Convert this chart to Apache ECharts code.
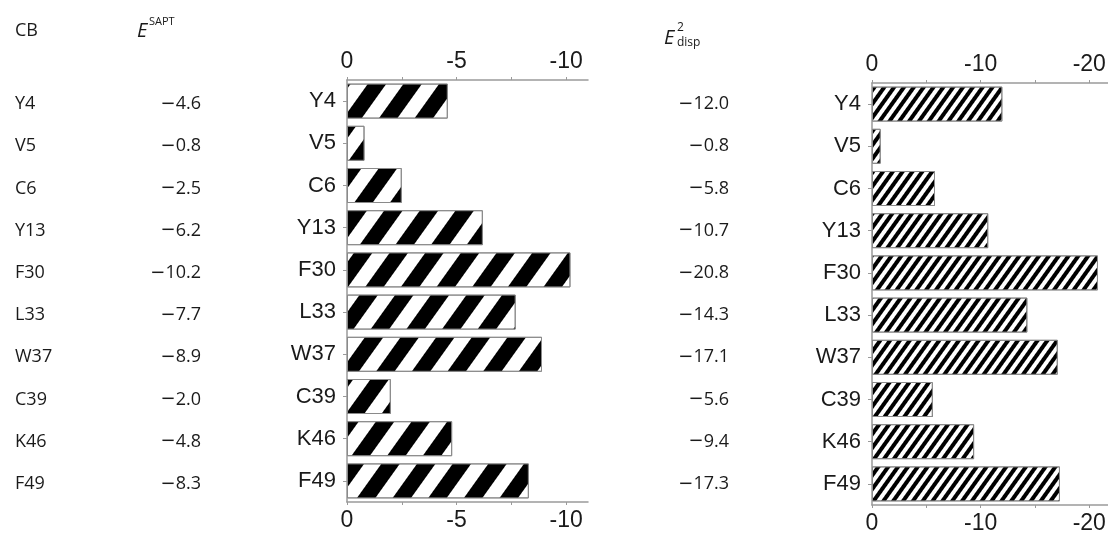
<!DOCTYPE html>
<html>
<head>
<meta charset="utf-8">
<script src="https://cdn.jsdelivr.net/npm/echarts@6/dist/echarts.min.js"></script>
<style>html,body{margin:0;padding:0;background:#fff;}#c{width:1108px;height:535px;}</style>
</head>
<body>
<div id="c"></div>
<script>
const categories = ['Y4','V5','C6','Y13','F30','L33','W37','C39','K46','F49'];
const saptValues = [-4.6,-0.8,-2.5,-6.2,-10.2,-7.7,-8.9,-2.0,-4.8,-8.3];
const dispValues = [-12.0,-0.8,-5.8,-10.7,-20.8,-14.3,-17.1,-5.6,-9.4,-17.3];
const saptLabelTicks = [0,-5,-10];
const saptTicks = [0,-2.5,-5,-7.5,-10];
const dispLabelTicks = [0,-10,-20];
const dispTicks = [0,-5,-10,-15,-20];

const fmtTable = v => '{m|\u2212}' + Math.abs(v).toFixed(1);
const fmtAxis = v => (v === 0 ? '0' : '-' + Math.abs(v));

const axisColor = '#9a9a9a';
const txtColor = '#1a1a1a';
const tableFont = '"Open Sans", "Noto Sans", sans-serif';
const axisFont = '"Liberation Sans", Arial, sans-serif';

function xAx(grid, pos, min, labels, ticks) {
  return {
    type: 'value', gridIndex: grid, position: pos, inverse: true,
    min: min, max: 0,
    axisLine: {show: true, onZero: false, lineStyle: {color: axisColor, width: 1.5}},
    axisTick: {show: true, length: 3, inside: false, customValues: ticks, lineStyle: {color: axisColor}},
    axisLabel: {show: true, customValues: labels, formatter: fmtAxis, margin: 7,
      fontFamily: axisFont, fontSize: 23, color: txtColor},
    splitLine: {show: false}
  };
}
function catAx(grid) {
  return {
    type: 'category', gridIndex: grid, data: categories, inverse: true, position: 'left',
    axisLine: {show: true, lineStyle: {color: axisColor, width: 1.5}},
    axisTick: {show: true, alignWithLabel: true, length: 4, lineStyle: {color: axisColor}},
    axisLabel: {margin: 11, fontFamily: axisFont, fontSize: 22, color: txtColor}
  };
}
function tableAx(grid, offset, align, fmt) {
  return {
    type: 'category', gridIndex: grid, data: categories, inverse: true, position: 'left', offset: offset,
    axisLine: {show: false}, axisTick: {show: false},
    axisLabel: {margin: 0, align: align, formatter: fmt,
      fontFamily: tableFont, fontSize: 18, color: txtColor,
      rich: {m: {fontFamily: '"DejaVu Sans", sans-serif', fontSize: 18, color: txtColor}}}
  };
}

const chart = echarts.init(document.getElementById('c'), null, {renderer: 'canvas'});
chart.setOption({
  backgroundColor: '#fff',
  animation: false,
  grid: [
    {left: 347, top: 80, width: 241, height: 422, containLabel: false, outerBoundsMode: 'none'},
    {left: 872, top: 83, width: 239, height: 422, containLabel: false, outerBoundsMode: 'none'}
  ],
  xAxis: [
    xAx(0, 'top', -11, saptLabelTicks, saptTicks),
    xAx(0, 'bottom', -11, saptLabelTicks, saptTicks),
    xAx(1, 'top', -22, dispLabelTicks, dispTicks),
    xAx(1, 'bottom', -22, dispLabelTicks, dispTicks)
  ],
  yAxis: [
    catAx(0),
    tableAx(1, 857, 'left', (v) => v),
    tableAx(1, 671, 'right', (v, i) => fmtTable(saptValues[i])),
    catAx(1),
    tableAx(1, 143, 'right', (v, i) => fmtTable(dispValues[i]))
  ],
  series: [
    {
      type: 'bar', xAxisIndex: 0, yAxisIndex: 0, data: saptValues, barWidth: 35,
      itemStyle: {
        color: '#ffffff', borderColor: '#8a8a8a', borderWidth: 1,
        decal: {symbol: 'rect', symbolSize: 1, color: '#000', dashArrayX: [1, 0], dashArrayY: [15, 14], rotation: -0.95}
      }
    },
    {
      type: 'bar', xAxisIndex: 2, yAxisIndex: 3, data: dispValues, barWidth: 35,
      itemStyle: {
        color: '#ffffff', borderColor: '#8a8a8a', borderWidth: 1,
        decal: {symbol: 'rect', symbolSize: 1, color: '#000', dashArrayX: [1, 0], dashArrayY: [4, 4], rotation: -0.95}
      }
    }
  ],
  graphic: [
    {type: 'text', x: 15, y: 31, style: {text: 'CB', font: '18px ' + tableFont, fill: txtColor, verticalAlign: 'middle'}},
    {type: 'text', x: 137, y: 31, style: {text: 'E', font: 'italic 20px ' + tableFont, fill: txtColor, verticalAlign: 'middle'}},
    {type: 'text', x: 149, y: 22, style: {text: 'SAPT', font: '11px ' + tableFont, fill: txtColor, verticalAlign: 'middle'}},
    {type: 'text', x: 664, y: 38, style: {text: 'E', font: 'italic 20px ' + tableFont, fill: txtColor, verticalAlign: 'middle'}},
    {type: 'text', x: 677, y: 28, style: {text: '2', font: '12px ' + tableFont, fill: txtColor, verticalAlign: 'middle'}},
    {type: 'text', x: 677, y: 43, style: {text: 'disp', font: '12px ' + tableFont, fill: txtColor, verticalAlign: 'middle'}}
  ]
});
</script>
</body>
</html>
